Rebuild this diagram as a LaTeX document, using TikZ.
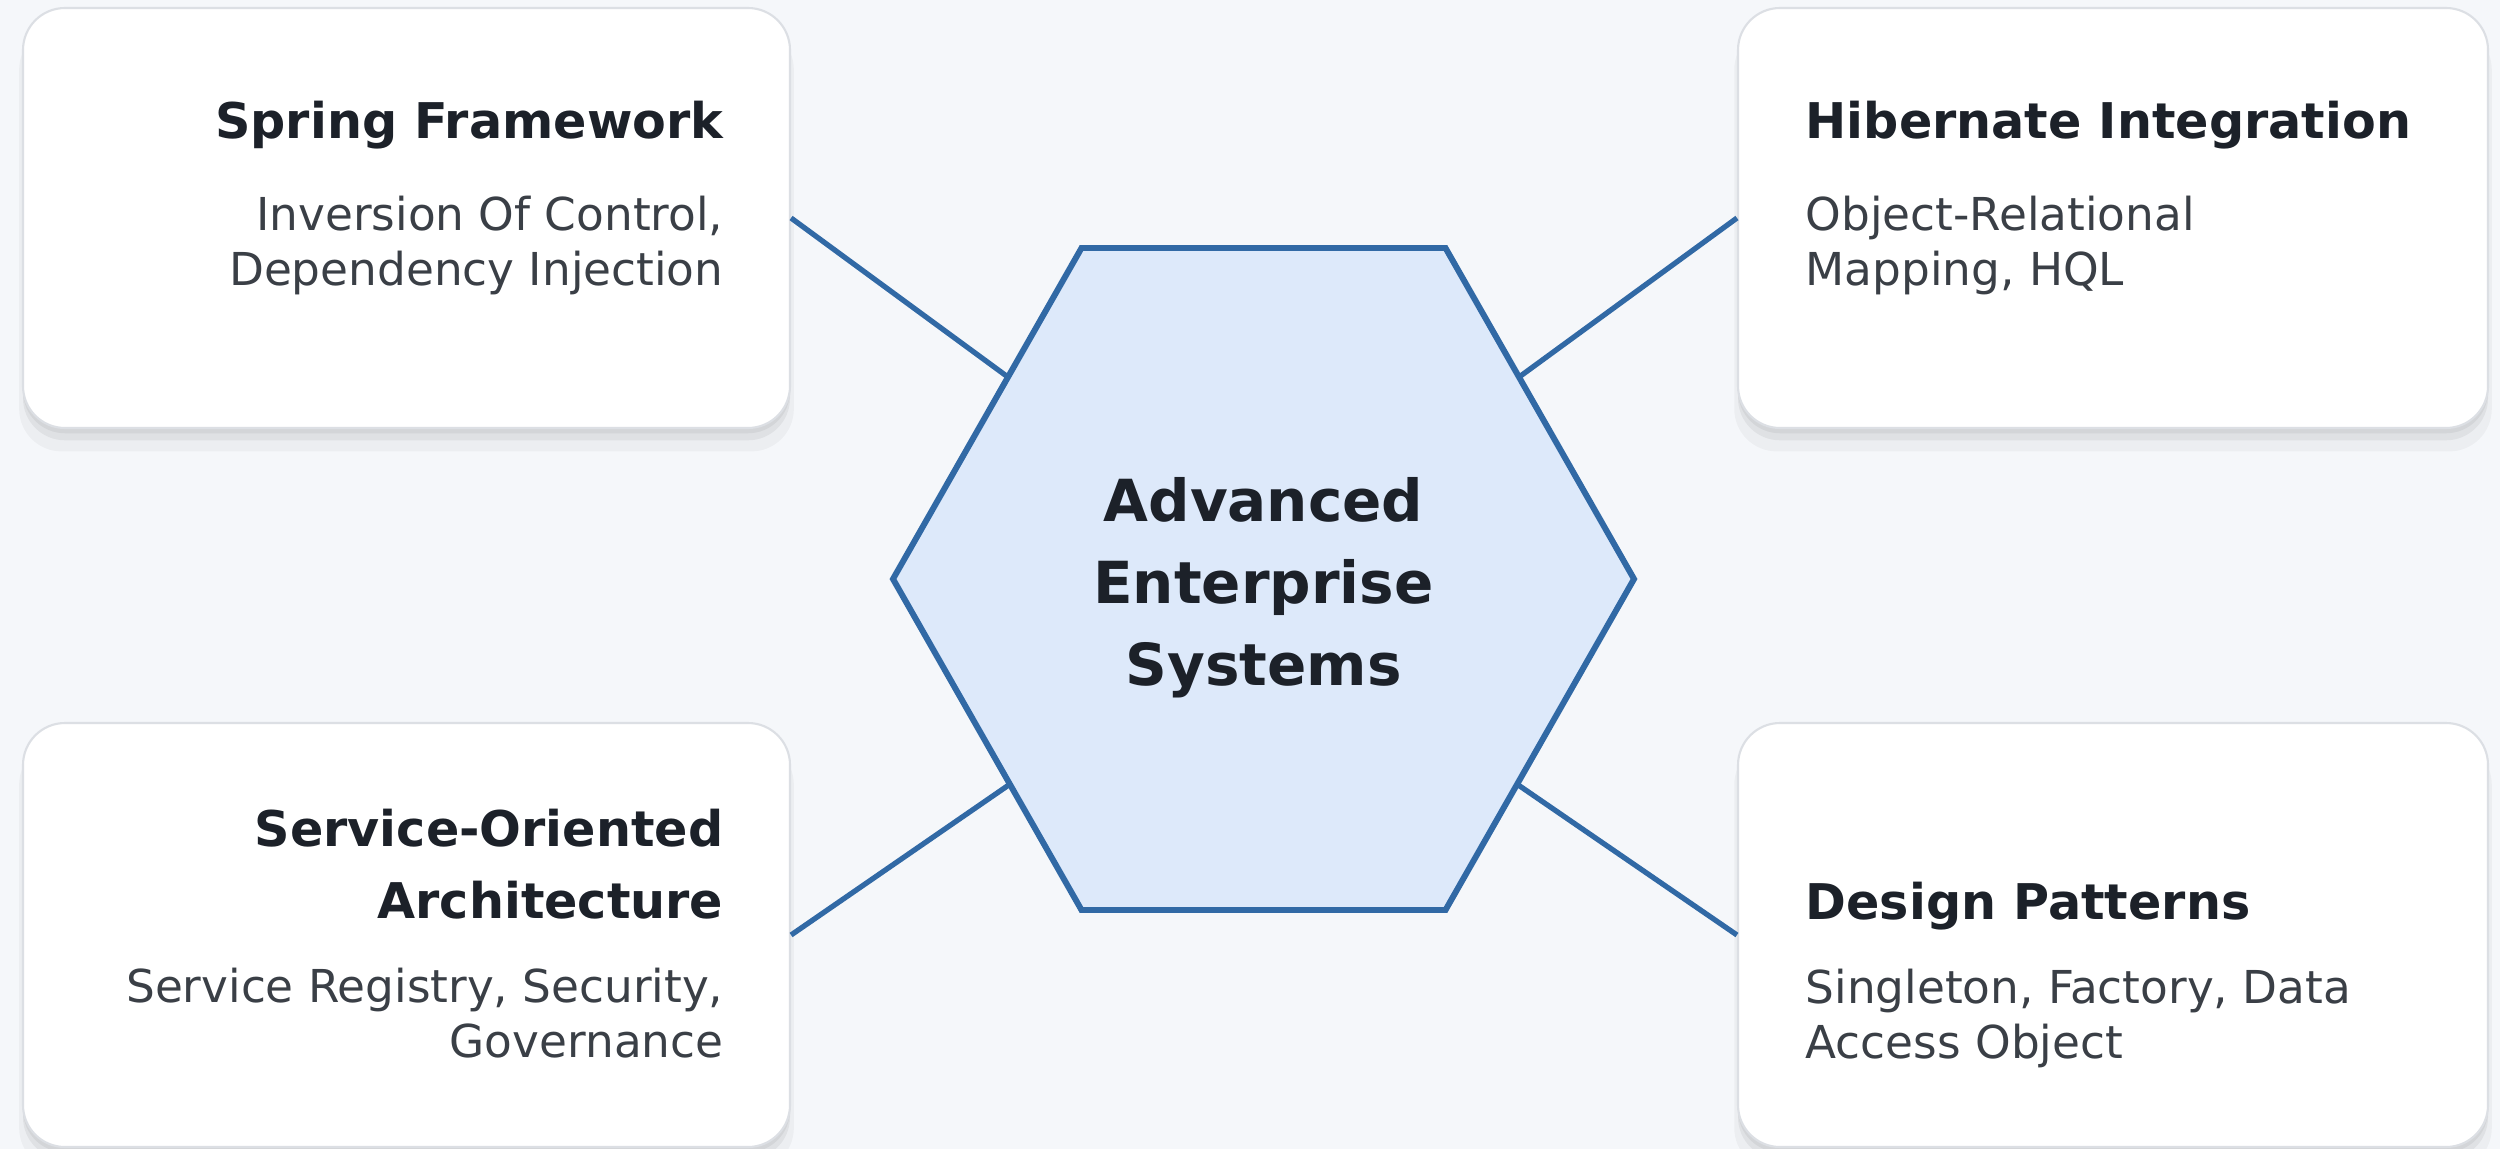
\documentclass[tikz,border=0pt]{standalone}
\usepackage{fontspec}
\setmainfont{DejaVu Sans}
\usetikzlibrary{calc, shadows}

\definecolor{pagebg}{HTML}{F5F7FA}
\definecolor{cardline}{HTML}{DCDFE4}
\definecolor{linkblue}{HTML}{3169A5}
\definecolor{hubfill}{HTML}{DDE9FA}
\definecolor{titlecol}{HTML}{1C2129}
\definecolor{textcol}{HTML}{3A3F46}

\tikzset{
  card/.style={draw=cardline, line width=0.6pt, fill=white, rounded corners=0.42cm,
    minimum height=4.2cm,
    drop shadow={shadow xshift=0pt, shadow yshift=-6pt, shadow scale=1.01, opacity=0.035, fill=black},
    drop shadow={shadow xshift=0pt, shadow yshift=-3.5pt, opacity=0.05, fill=black},
    drop shadow={shadow xshift=0pt, shadow yshift=-1.5pt, opacity=0.05, fill=black}},
  cardtitle/.style={inner sep=0pt, text=titlecol, font=\fontsize{14}{20.5}\selectfont\bfseries},
  cardtext/.style={inner sep=0pt, text=textcol, font=\fontsize{12.9}{15.8}\selectfont},
  link/.style={draw=linkblue, line width=1.5pt},
  hexline/.style={draw=linkblue, line width=1.7pt, fill=hubfill, line join=miter},
  hubtext/.style={align=center, text=titlecol, font=\fontsize{16.5}{23.3}\selectfont\bfseries}
}

\begin{document}
\begin{tikzpicture}
  \useasboundingbox (0,0) rectangle (25,-11.49);
  \fill[pagebg] (0,0) rectangle (25,-11.49);

  % cards
  \node[card, minimum width=7.67cm] (spring) at (4.065,-2.18) {};
  \node[card, minimum width=7.50cm] (hibernate) at (21.13,-2.18) {};
  \node[card, minimum width=7.67cm, minimum height=4.24cm] (soa) at (4.065,-9.35) {};
  \node[card, minimum width=7.50cm, minimum height=4.24cm] (patterns) at (21.13,-9.35) {};

  % hexagon
  \coordinate (hub) at (12.635,-5.79);
  \path (hub) +(-3.705,0) coordinate (hW) +(-1.82,3.31) coordinate (hNW)
              +(1.82,3.31) coordinate (hNE) +(3.705,0) coordinate (hE)
              +(1.82,-3.31) coordinate (hSE) +(-1.82,-3.31) coordinate (hSW);
  \draw[hexline] (hW) -- (hNW) -- (hNE) -- (hE) -- (hSE) -- (hSW) -- cycle;
  \node[hubtext] (core) at (12.635,-5.88) {Advanced\\Enterprise\\Systems};

  % links
  \coordinate (jNW) at ($(hNW)!0.39!(hW)$);
  \coordinate (jNE) at ($(hNE)!0.39!(hE)$);
  \coordinate (jSW) at ($(hSW)!0.38!(hW)$);
  \coordinate (jSE) at ($(hSE)!0.38!(hE)$);
  \draw[link] (spring.east) -- (jNW);
  \draw[link] (hibernate.west) -- (jNE);
  \draw[link] (soa.east) -- (jSW);
  \draw[link] (patterns.west) -- (jSE);

  % texts
  \node[cardtitle, anchor=north east] (spring-title) at (7.24,-1.00) {Spring Framework};
  \node[cardtext, anchor=north east, align=right] (spring-text) at (7.24,-1.95)
    {Inversion Of Control,\\Dependency Injection};
  \node[cardtitle, anchor=north west] (hibernate-title) at (18.05,-1.00) {Hibernate Integration};
  \node[cardtext, anchor=north west, align=left] (hibernate-text) at (18.05,-1.95)
    {Object-Relational\\Mapping, HQL};
  \node[cardtitle, anchor=north east, align=right] (soa-title) at (7.24,-8.08)
    {Service-Oriented\\Architecture};
  \node[cardtext, anchor=north east, align=right] (soa-text) at (7.24,-9.67)
    {Service Registry, Security,\\Governance};
  \node[cardtitle, anchor=north west] (patterns-title) at (18.05,-8.81) {Design Patterns};
  \node[cardtext, anchor=north west, align=left] (patterns-text) at (18.05,-9.68)
    {Singleton, Factory, Data\\Access Object};
\end{tikzpicture}
\end{document}
